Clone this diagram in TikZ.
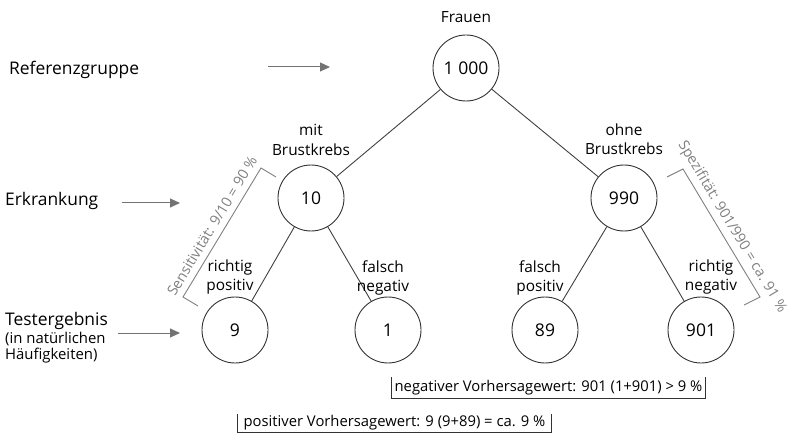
\documentclass[tikz,border=0pt]{standalone}
\usepackage{fontspec}
\setmainfont{Open Sans}
\usetikzlibrary{arrows.meta}

\begin{document}
\begin{tikzpicture}[x=1pt,y=-1pt,
  count/.style={circle, draw=black!80, line width=0.9pt, minimum size=66pt,
    inner sep=0pt, font=\fontsize{17.5}{20}\selectfont},
  lbl/.style={align=center, inner sep=0pt, font=\fontsize{15.4}{19.5}\selectfont},
  side/.style={anchor=west, inner sep=0pt, font=\fontsize{17.4}{20}\selectfont},
  sidesmall/.style={anchor=west, inner sep=0pt, font=\fontsize{14.9}{16}\selectfont},
  edge/.style={draw=black!75, line width=0.9pt},
  pointer/.style={draw=black!55, line width=1pt,
    -{Triangle[length=10pt,width=9pt,fill=black!55]}},
  brace/.style={draw=black!50, line width=0.9pt},
  note/.style={text=black!50, inner sep=0pt, font=\fontsize{14.4}{16}\selectfont},
  foot/.style={inner sep=0pt, minimum width=313pt, font=\fontsize{14.8}{16}\selectfont},
  footline/.style={draw=black!80, line width=0.8pt}]

\useasboundingbox (0,0) rectangle (788,433);

% tree of counts
\node[count] (root)  at (466,68)  {1\ 000};
\node[count] (sick)  at (311,198) {10};
\node[count] (well)  at (624,198) {990};
\node[count] (tp)    at (235,330) {9};
\node[count] (fn)    at (388,330) {1};
\node[count] (fp)    at (545,330) {89};
\node[count] (tn)    at (701,330) {901};

\draw[edge] (root) -- (sick);
\draw[edge] (root) -- (well);
\draw[edge] (sick) -- (tp);
\draw[edge] (sick) -- (fn);
\draw[edge] (well) -- (fp);
\draw[edge] (well) -- (tn);

% branch labels
\node[lbl] (lroot) at (466,17)  {Frauen};
\node[lbl] (lsick) at (311,140) {mit\\Brustkrebs};
\node[lbl] (lwell) at (624,139) {ohne\\Brustkrebs};
\node[lbl] (ltp)   at (230,277) {richtig\\positiv};
\node[lbl] (lfn)   at (383,278) {falsch\\negativ};
\node[lbl] (lfp)   at (540,278) {falsch\\positiv};
\node[lbl] (ltn)   at (711,277) {richtig\\negativ};

% row captions with pointers
\node[side] (cref)  at (9,70)  {Referenzgruppe};
\node[side] (cerk)  at (5,201) {Erkrankung};
\node[side] (ctest) at (5,321) {Testergebnis};
\node[sidesmall] (ctest2) at (5,339) {(in natürlichen};
\node[sidesmall] (ctest3) at (5,356) {Häufigkeiten)};

\coordinate (p1a) at (268,67);  \coordinate (p1b) at (330,67);
\coordinate (p2a) at (122,203); \coordinate (p2b) at (180,203);
\coordinate (p3a) at (118,333); \coordinate (p3b) at (180,333);
\draw[pointer] (p1a) -- (p1b);
\draw[pointer] (p2a) -- (p2b);
\draw[pointer] (p3a) -- (p3b);

% sensitivity bracket
\coordinate (s1) at (276,177); \coordinate (s2) at (261,168);
\coordinate (s3) at (183,297); \coordinate (s4) at (198,306);
\draw[brace] (s1) -- (s2) -- (s3) -- (s4);
\node[note, rotate=58.8] (sens) at (212,226) {Sensitivität: 9/10 = 90 \%};

% specificity bracket
\coordinate (q1) at (667,177); \coordinate (q2) at (683,169);
\coordinate (q3) at (760,297); \coordinate (q4) at (744,305);
\draw[brace] (q1) -- (q2) -- (q3) -- (q4);
\node[note, rotate=-59] (spec) at (732,227) {Spezifität: 901/990 = ca. 91 \%};

% predictive values
\node[foot, minimum height=21pt] (npv) at (548.5,387.5)
  {negativer Vorhersagewert: 901 (1+901) > 9 \%};
\draw[footline] (npv.north west) -- (npv.south west) -- (npv.south east) -- (npv.north east);

\node[foot, minimum height=18pt] (ppv) at (394.5,423)
  {positiver Vorhersagewert: 9 (9+89) = ca. 9 \%};
\draw[footline] (ppv.north west) -- (ppv.south west) -- (ppv.south east) -- (ppv.north east);

\end{tikzpicture}
\end{document}
